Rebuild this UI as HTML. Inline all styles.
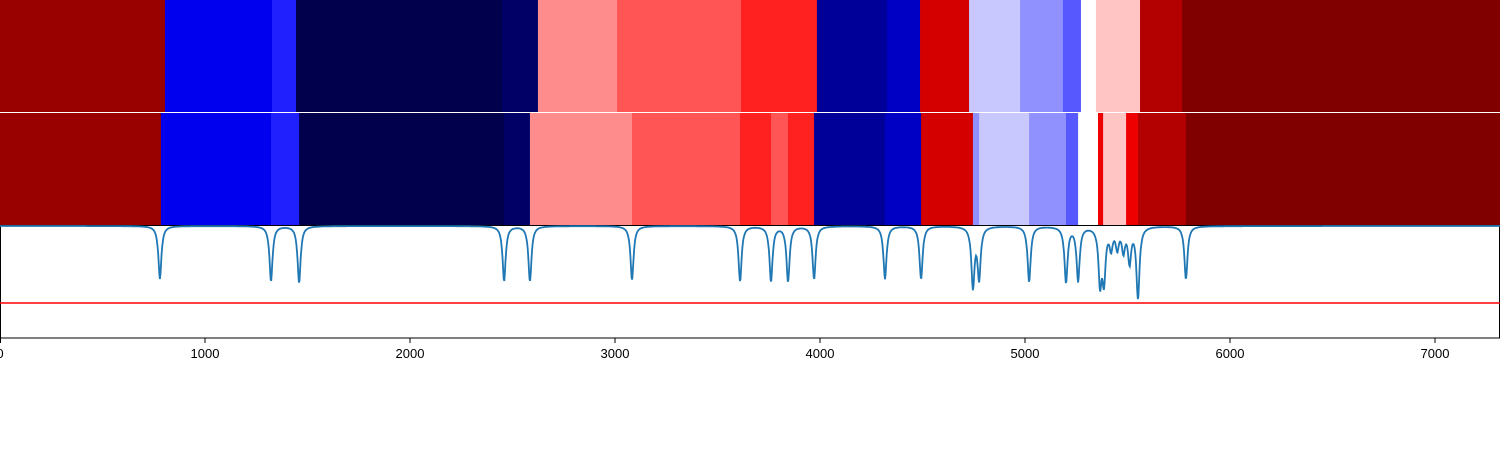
<!DOCTYPE html>
<html><head><meta charset="utf-8"><style>
html,body{margin:0;padding:0;background:#fff;}
svg{display:block;font-family:"Liberation Sans","DejaVu Sans",sans-serif;}
</style></head><body>
<svg id="chart" width="1500" height="450">
<g id="top"></g>
<g id="mid"></g>
<g id="plot"></g>
<g id="axis"></g>
</svg>
<script>
// data (x in data units)
const topEdges = [0,805,1327,1444,2449,2624,3010,3615,3985,4327,4488,4727,4976,5185,5273,5346,5561,5766,7317];
const topColors = ["#990000","#0000ee","#2020ff","#00004c","#000066","#ff8c8c","#ff5555","#ff2020","#000099","#0000c4","#d40000","#c8c8ff","#9090ff","#5858ff","#ffffff","#ffc4c4","#b30000","#800000"];
const botEdges = [0,785,1322,1459,2459,2585,3083,3610,3761,3844,3971,4317,4493,4746,4776,5020,5200,5259,5356,5381,5493,5551,5785,7317];
const botColors = ["#990000","#0000ee","#2020ff","#00004c","#000066","#ff8c8c","#ff5555","#ff2020","#ff5555","#ff2020","#000099","#0000c4","#d40000","#9090ff","#c8c8ff","#9090ff","#5858ff","#ffffff","#ee0000","#ffc4c4","#ee0000","#b30000","#800000"];
const dipCenters = [780,1322,1459,2459,2585,3083,3610,3761,3844,3971,4317,4493,4746,4776,5020,5200,5259,5366,5385,5420,5450,5480,5510,5551,5785];
const dipDepths  = [0.93,0.97,1.0,0.97,0.97,0.95,0.97,0.97,0.97,0.93,0.93,0.93,1.05,0.9,0.98,0.98,0.95,0.95,0.9,0.35,0.35,0.4,0.6,1.25,0.93];
const tickValues = [0,1000,2000,3000,4000,5000,6000,7000];
const thresholdValue = 1.35;

const svg = document.getElementById('chart');
const NS = "http://www.w3.org/2000/svg";
const X0 = 0, X1 = 7317;
const sx = v => v / (X1 - X0) * 1500;
const pTop = 226;
const sy = v => pTop + v * 57;

function mk(tag, attrs, parent){const e=document.createElementNS(NS,tag);for(const k in attrs)e.setAttribute(k,attrs[k]);parent.appendChild(e);return e;}

function band(g, edges, colors, y, h){
  for(let i=0;i<colors.length;i++){
    const r = mk('rect',{x:sx(edges[i]),y:y,width:sx(edges[i+1])-sx(edges[i])+0.5,height:h,fill:colors[i]},g);
    
    
  }
}
band(document.getElementById('top'), topEdges, topColors, 0, 112);
band(document.getElementById('mid'), botEdges, botColors, 113, 112);

const plot = document.getElementById('plot');
const bg = mk('rect',{x:0.5,y:225.5,width:1499,height:112.5,fill:'#fff',stroke:'#000','stroke-width':1},plot);



const thr = mk('line',{x1:0,x2:1500,y1:sy(thresholdValue),y2:sy(thresholdValue),stroke:'#ff0000','stroke-width':1.5},plot);



let pts=[];
const g = 9;
for(let v=0; v<=X1; v+=3){
  let d=0;
  for(let i=0;i<dipCenters.length;i++){const dx=v-dipCenters[i];d+=dipDepths[i]*g*g/(dx*dx+g*g);}
  d=Math.min(d,1.35);
  pts.push(sx(v).toFixed(1)+','+sy(d).toFixed(1));
}
const line = mk('polyline',{points:pts.join(' '),fill:'none',stroke:'#1f77b4','stroke-width':1.8},plot);



const ax = document.getElementById('axis');
tickValues.forEach(t=>{
  const x = Math.max(0.5,sx(t));
  const tk = mk('line',{x1:x,x2:x,y1:338,y2:343,stroke:'#000','stroke-width':1},ax);
  
  
  const tx = mk('text',{x:sx(t),y:358,'text-anchor':'middle','font-size':13,fill:'#000'},ax);
  tx.textContent = t;
  
  
});
</script>
</body></html>
